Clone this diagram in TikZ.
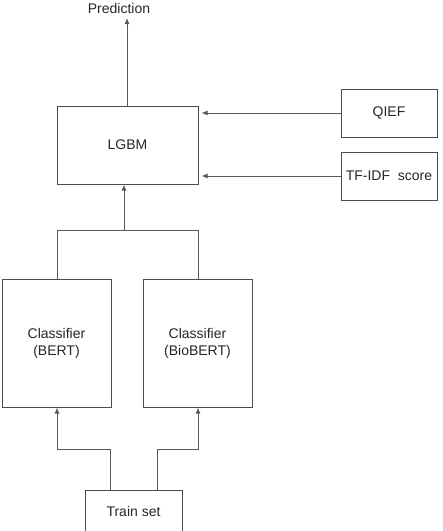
\documentclass[tikz,border=0pt]{standalone}
\usepackage{fontspec}
\setmainfont{Liberation Sans}
\usetikzlibrary{arrows.meta,calc}
\begin{document}
\begin{tikzpicture}[x=1pt,y=-1pt,
  box/.style={draw=black!70,line width=1pt,inner sep=0pt,align=center,font=\fontsize{14}{17}\selectfont,text=black!85},
  conn/.style={draw=black!65,line width=1pt},
  arr/.style={conn,-{Latex[length=6pt,width=5pt]}}]
\useasboundingbox (0,0) rectangle (443,531);
\node[box,minimum width=141pt,minimum height=78pt] (lgbm) at (127.5,145) {LGBM};
\node[box,minimum width=96pt,minimum height=48pt] (qief) at (389,113) {QIEF};
\node[box,minimum width=96pt,minimum height=48pt] (tfidf) at (389,176) {TF-IDF\ \ score};
\node[box,minimum width=109pt,minimum height=128pt] (bert) at (56.5,343) {Classifier\\(BERT)};
\node[box,minimum width=109pt,minimum height=128pt] (bio) at (197.5,343) {Classifier\\(BioBERT)};
\node[box,minimum width=97pt,minimum height=42pt] (train) at (133.5,511) {Train set};
\node[font=\fontsize{14}{17}\selectfont,text=black!85,inner sep=0pt] (pred) at (119,8) {Prediction};
\coordinate (ptip) at (127,18);
% prediction
\draw[arr] (lgbm.north -| ptip) -- (ptip);
% side inputs
\draw[arr] (qief.west) -- ($(lgbm.east |- qief.west)+(3,0)$);
\draw[arr] (tfidf.west) -- ($(lgbm.east |- tfidf.west)+(3,0)$);
% classifiers merge
\coordinate (jl) at (57,230);
\coordinate (jr) at (198,230);
\coordinate (jm) at (124,230);
\draw[conn] (bert.north -| jl) -- (jl) -- (jr) -- (bio.north -| jr);
\draw[arr] (jm) -- (lgbm.south -| jm);
% train set
\coordinate (tl) at (110,449);
\coordinate (tr) at (157,449);
\draw[arr] (train.north -| tl) -- (tl) -- (57,449) -- (bert.south -| jl);
\draw[arr] (train.north -| tr) -- (tr) -- (198,449) -- (bio.south -| jr);
\end{tikzpicture}
\end{document}
